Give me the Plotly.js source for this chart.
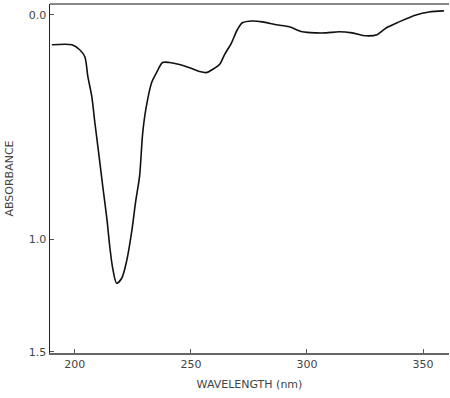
<!DOCTYPE html>
<html>
<head>
<meta charset="utf-8">
<script src="https://cdn.plot.ly/plotly-3.0.1.min.js"></script>
<style>html,body{margin:0;padding:0;background:#fff;}#chart{width:450px;height:398px;}</style>
</head>
<body>
<div id="chart"></div>
<script>
const wavelength = [190.1, 198.7, 202.1, 204.3, 205.6, 207.3, 208.6, 209.9, 212.0, 213.8, 215.0, 216.3, 218.0, 220.2, 222.3, 224.5, 226.2, 227.9, 229.2, 230.6, 233.1, 235.2, 237.8, 240.8, 245.1, 249.4, 253.7, 256.7, 259.3, 262.3, 264.5, 267.5, 270.0, 272.2, 276.5, 280.8, 286.8, 292.4, 298.0, 304.0, 308.3, 313.9, 319.5, 325.5, 330.2, 334.1, 339.7, 347.0, 352.6, 359.0];
const absorbance = [0.133, 0.133, 0.155, 0.186, 0.274, 0.363, 0.478, 0.584, 0.761, 0.907, 1.027, 1.128, 1.195, 1.173, 1.097, 0.965, 0.832, 0.717, 0.530, 0.420, 0.301, 0.257, 0.212, 0.212, 0.221, 0.235, 0.252, 0.257, 0.243, 0.221, 0.177, 0.124, 0.066, 0.035, 0.027, 0.031, 0.044, 0.053, 0.075, 0.080, 0.080, 0.075, 0.080, 0.093, 0.088, 0.058, 0.031, 0.000, -0.013, -0.018];
const xTicks = [200, 250, 300, 350];
const yTicks = [0.0, 1.0, 1.5];
const yTickText = ["0.0", "1.0", "1.5"];

const font = {family: "DejaVu Sans, Verdana, sans-serif", size: 11, color: "#444"};

Plotly.newPlot("chart", [{
  x: wavelength, y: absorbance, type: "scatter", mode: "lines",
  line: {color: "#111", width: 1.6, shape: "spline", smoothing: 0.8},
  hoverinfo: "skip"
}], {
  width: 450, height: 398,
  margin: {l: 50, r: 1, t: 4, b: 45},
  paper_bgcolor: "#fff", plot_bgcolor: "#fff",
  showlegend: false,
  font: font,
  xaxis: {
    range: [189.3, 361.2], tickvals: xTicks, ticktext: xTicks.map(String),
    ticks: "inside", ticklen: 4, tickcolor: "#555", tickwidth: 1,
    showline: true, linecolor: "#666", linewidth: 1.5,
    showgrid: false, zeroline: false, tickfont: font,
    title: {text: "WAVELENGTH (nm)", font: font, standoff: 10}
  },
  yaxis: {
    range: [1.506, -0.0487], tickvals: yTicks, ticktext: yTickText,
    ticks: "inside", ticklen: 4, tickcolor: "#555", tickwidth: 1,
    showline: true, linecolor: "#222", linewidth: 1.5,
    showgrid: false, zeroline: false, tickfont: font,
    title: {text: "ABSORBANCE", font: font, standoff: 13}
  },
  shapes: [{type: "line", xref: "paper", yref: "paper", x0: 0, x1: 1, y0: 1, y1: 1,
            line: {color: "#888", width: 2}}]
}, {staticPlot: true, displayModeBar: false});
</script>
</body>
</html>
